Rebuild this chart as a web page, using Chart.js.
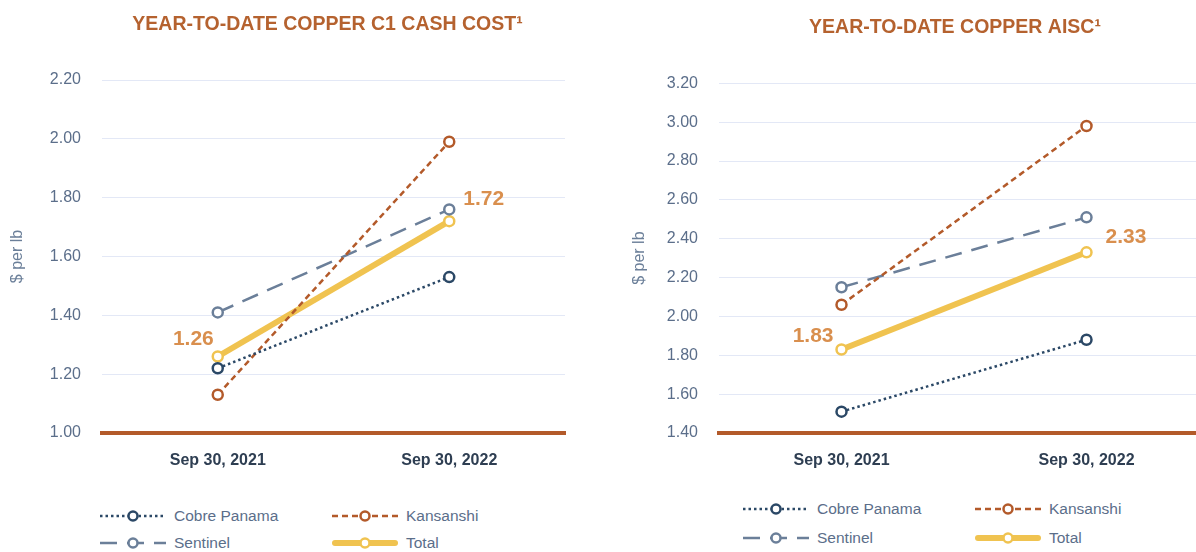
<!DOCTYPE html>
<html><head><meta charset="utf-8">
<script src="https://cdn.jsdelivr.net/npm/chart.js@4.4.0/dist/chart.umd.min.js"></script>
<style>
html,body{margin:0;padding:0;background:#fff;overflow:hidden;width:1196px;height:552px;}
body{position:relative;font-family:"Liberation Sans",Arial,sans-serif;}
.wrap{position:absolute;top:0;}
.item{position:absolute;display:flex;align-items:center;height:20px;font-size:15.5px;color:#5b6e8a;white-space:nowrap;}
.item canvas{display:block;margin-right:8px;}
</style></head>
<body>
<div class="wrap" style="left:0px"><canvas id="c1" width="655" height="480"></canvas></div>
<div class="wrap" style="left:600px"><canvas id="c2" width="688" height="480"></canvas></div>
<div id="legends"></div>
<script>
// ---- data ----
const categories = ['Sep 30, 2021', 'Sep 30, 2022'];
const seriesNames = ['Cobre Panama', 'Kansanshi', 'Sentinel', 'Total'];
const c1Cobre = [1.22, 1.53];
const c1Kansanshi = [1.13, 1.99];
const c1Sentinel = [1.41, 1.76];
const c1Total = [1.26, 1.72];
const aiscCobre = [1.51, 1.88];
const aiscKansanshi = [2.06, 2.98];
const aiscSentinel = [2.15, 2.51];
const aiscTotal = [1.83, 2.33];
const c1Axis = [1.0, 2.2, 0.2];
const aiscAxis = [1.4, 3.2, 0.2];
const titles = ['YEAR-TO-DATE COPPER C1 CASH COST\u00B9', 'YEAR-TO-DATE COPPER AISC\u00B9'];
const yTitle = '$ per lb';

// ---- styles ----
const FONT = '"Liberation Sans", Arial, sans-serif';
const styles = [
  {color: '#2b4866', dash: [2.5, 3], width: 2.5},
  {color: '#b35a2a', dash: [6, 4], width: 2.5},
  {color: '#6b7f99', dash: [17, 10], width: 2.5},
  {color: '#f0c350', dash: [], width: 6}
];

function makeDatasets(arrs) {
  return arrs.map((d, i) => ({
    label: seriesNames[i],
    data: d,
    borderColor: styles[i].color,
    borderDash: styles[i].dash,
    borderWidth: styles[i].width,
    borderCapStyle: 'butt',
    pointRadius: 5,
    pointHoverRadius: 5,
    pointBorderWidth: 2.5,
    pointBackgroundColor: '#ffffff',
    pointBorderColor: styles[i].color,
    fill: false,
    tension: 0
  }));
}

const totalLabels = {
  id: 'totalLabels',
  afterDatasetsDraw(chart, args, opts) {
    const idx = chart.data.datasets.length - 1;
    const meta = chart.getDatasetMeta(idx);
    const ctx = chart.ctx;
    ctx.save();
    ctx.font = 'bold 21px ' + FONT;
    ctx.fillStyle = '#d98f4e';
    ctx.textBaseline = 'middle';
    meta.data.forEach((pt, i) => {
      const v = chart.data.datasets[idx].data[i];
      const o = opts.offsets[i];
      ctx.textAlign = o.align;
      ctx.fillText(v.toFixed(2), pt.x + o.dx, pt.y + o.dy);
    });
    ctx.restore();
  }
};

function makeChart(id, arrs, axis, title, cfg) {
  return new Chart(document.getElementById(id), {
    type: 'line',
    data: {labels: categories, datasets: makeDatasets(arrs)},
    plugins: [totalLabels],
    options: {
      responsive: false,
      animation: false,
      events: [],
      layout: {padding: {left: cfg.padLeft, right: 0, top: 0, bottom: 0}},
      plugins: {
        legend: {display: false},
        tooltip: {enabled: false},
        title: {
          display: true, text: title, color: '#b5622f',
          font: {family: FONT, size: 19.5, weight: 'bold'},
          padding: {top: cfg.titleTop, bottom: cfg.titleBottom}
        },
        totalLabels: {offsets: cfg.offsets}
      },
      scales: {
        x: {
          type: 'category', offset: true,
          grid: {display: false, drawTicks: false},
          border: {display: true, color: '#b35a2a', width: 4},
          ticks: {font: {family: FONT, size: 16, weight: 'bold'}, color: '#2e3e52', padding: 18},
          afterFit(s) { s.height = 47; }
        },
        y: {
          min: axis[0], max: axis[1],
          ticks: {stepSize: axis[2], callback: v => Number(v).toFixed(2), padding: 21,
                  font: {family: FONT, size: 16}, color: '#5b6e8a'},
          grid: {color: '#e3e8f6', drawTicks: false, lineWidth: 1},
          border: {display: false},
          title: {display: true, text: yTitle, color: '#6b7f99', font: {family: FONT, size: 16},
                  padding: {top: 8, bottom: 0}},
          afterFit(s) { s.width = cfg.yWidth; }
        },
        // empty spacer axis on the right, so the title centres where the reference has it
        yR: {
          type: 'linear', position: 'right', display: true,
          grid: {display: false, drawTicks: false}, border: {display: false},
          ticks: {display: false},
          afterFit(s) { s.width = cfg.rightW; }
        }
      }
    }
  });
}

const chart1 = makeChart('c1', [c1Cobre, c1Kansanshi, c1Sentinel, c1Total], c1Axis, titles[0], {
  padLeft: 0, yWidth: 102, rightW: 90, titleTop: 13.3, titleBottom: 43.3,
  offsets: [{align: 'right', dx: -4, dy: -17}, {align: 'left', dx: 14, dy: -22}]
});
const chart2 = makeChart('c2', [aiscCobre, aiscKansanshi, aiscSentinel, aiscTotal], aiscAxis, titles[1], {
  padLeft: 22, yWidth: 97, rightW: 79, titleTop: 16.1, titleBottom: 43.8,
  offsets: [{align: 'right', dx: -8, dy: -13}, {align: 'left', dx: 19, dy: -15}]
});

// ---- HTML legends (built from the chart datasets) ----
function sample(ds) {
  const c = document.createElement('canvas');
  c.width = 66; c.height = 14;
  const g = c.getContext('2d');
  g.strokeStyle = ds.borderColor; g.lineWidth = ds.borderWidth;
  g.setLineDash(ds.borderDash); g.lineCap = ds.borderWidth > 4 ? 'round' : 'butt';
  g.beginPath(); g.moveTo(ds.borderWidth > 4 ? 3 : 0, 7); g.lineTo(ds.borderWidth > 4 ? 63 : 66, 7); g.stroke();
  g.setLineDash([]);
  g.beginPath(); g.arc(33, 7, 4.5, 0, Math.PI * 2);
  g.fillStyle = '#fff'; g.fill();
  g.lineWidth = 2.5; g.strokeStyle = ds.borderColor; g.stroke();
  return c;
}
function buildLegend(chart, cols, rows) {
  const host = document.getElementById('legends');
  chart.data.datasets.forEach((ds, i) => {
    const it = document.createElement('div');
    it.className = 'item';
    it.style.left = cols[i % 2] + 'px';
    it.style.top = (rows[Math.floor(i / 2)] - 10) + 'px';
    it.appendChild(sample(ds));
    const t = document.createElement('span');
    t.textContent = ds.label;
    it.appendChild(t);
    host.appendChild(it);
  });
}
buildLegend(chart1, [100, 332], [516, 543]);
buildLegend(chart2, [743, 975], [509, 538]);
</script>
</body></html>
